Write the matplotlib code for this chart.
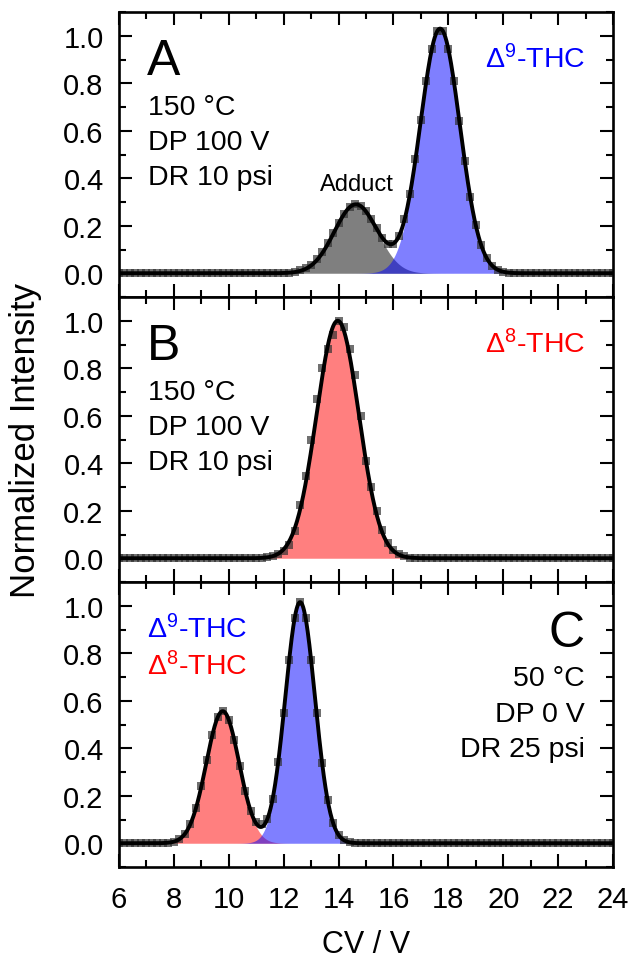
import numpy as np
import matplotlib
matplotlib.use("Agg")
import matplotlib.pyplot as plt
from matplotlib.ticker import MultipleLocator

plt.rcParams['font.family'] = ['Liberation Sans', 'DejaVu Sans']
plt.rcParams['mathtext.fontset'] = 'custom'
plt.rcParams['mathtext.rm'] = 'Liberation Sans'
plt.rcParams['mathtext.default'] = 'regular'

# ---- data ----
cv = np.round(np.arange(6.0, 24.0001, 0.2), 1)  # CV sampling grid (V)

intensity_A = [
    0, 0, 0, 0, 0, 0, 0, 0, 0, 0,
    0, 0, 0, 0, 0, 0, 0, 0, 0, 0,
    0, 0, 0, 0, 0, 0, 0, 0, 0, 0,
    0.001, 0.003, 0.006, 0.012, 0.021, 0.036, 0.059, 0.089, 0.127, 0.169,
    0.213, 0.251, 0.278, 0.290, 0.284, 0.261, 0.228, 0.189, 0.150, 0.124,
    0.122, 0.155, 0.227, 0.335, 0.479, 0.646, 0.811, 0.945, 1.020, 1.020,
    0.944, 0.809, 0.642, 0.472, 0.321, 0.202, 0.118, 0.063, 0.032, 0.015,
    0.006, 0.003, 0.001, 0, 0, 0, 0, 0, 0, 0,
    0, 0, 0, 0, 0, 0, 0, 0, 0, 0,
    0,
]
intensity_B = [
    0, 0, 0, 0, 0, 0, 0, 0, 0, 0,
    0, 0, 0, 0, 0, 0, 0, 0, 0, 0,
    0, 0, 0, 0, 0, 0, 0, 0.004, 0.009, 0.018,
    0.030, 0.055, 0.115, 0.225, 0.345, 0.500, 0.670, 0.800, 0.880, 0.940,
    1.000, 0.975, 0.880, 0.770, 0.600, 0.410, 0.300, 0.200, 0.120, 0.065,
    0.035, 0.017, 0.008, 0.003, 0.001, 0, 0, 0, 0, 0,
    0, 0, 0, 0, 0, 0, 0, 0, 0, 0,
    0, 0, 0, 0, 0, 0, 0, 0, 0, 0,
    0, 0, 0, 0, 0, 0, 0, 0, 0, 0,
    0,
]
intensity_C = [
    0, 0, 0, 0, 0, 0, 0, 0, 0, 0.002,
    0.007, 0.017, 0.040, 0.080, 0.147, 0.239, 0.349, 0.455, 0.532, 0.556,
    0.520, 0.435, 0.326, 0.220, 0.135, 0.090, 0.080, 0.101, 0.188, 0.341,
    0.548, 0.772, 0.948, 1.015, 0.948, 0.772, 0.548, 0.339, 0.183, 0.086,
    0.035, 0.013, 0.004, 0.001, 0, 0, 0, 0, 0, 0,
    0, 0, 0, 0, 0, 0, 0, 0, 0, 0,
    0, 0, 0, 0, 0, 0, 0, 0, 0, 0,
    0, 0, 0, 0, 0, 0, 0, 0, 0, 0,
    0, 0, 0, 0, 0, 0, 0, 0, 0, 0,
    0,
]

# Gaussian fit components: (amplitude, center, sigma)
peaks_A = [(0.29, 14.63, 0.78), (1.03, 17.70, 0.72)]
peaks_B = [(1.00, 13.97, 0.77)]
peaks_C = [(0.556, 9.78, 0.60), (1.015, 12.60, 0.54)]
fills_A = ['#000000', '#0000ff']
fills_B = ['#ff0000']
fills_C = ['#ff0000', '#0000ff']

panel_letters = ['A', 'B', 'C']
conditions = [['150 °C', 'DP 100 V', 'DR 10 psi'],
              ['150 °C', 'DP 100 V', 'DR 10 psi'],
              ['50 °C', 'DP 0 V', 'DR 25 psi']]
xticks = [6, 8, 10, 12, 14, 16, 18, 20, 22, 24]
yticks = [0.0, 0.2, 0.4, 0.6, 0.8, 1.0]


def gauss(x, a, c, s):
    return a * np.exp(-(x - c) ** 2 / (2 * s ** 2))


W, H = 633, 962
fig = plt.figure(figsize=(W / 100, H / 100), dpi=100)
left, right = 119 / W, 613 / W
top_px, bot_px = 13, 868
ph = (bot_px - top_px) / 3

axes = []
for i in range(3):
    y0 = 1 - (top_px + (i + 1) * ph) / H
    ax = fig.add_axes([left, y0, right - left, ph / H])
    axes.append(ax)

xf = np.linspace(6, 24, 1200)
datasets = [intensity_A, intensity_B, intensity_C]
peaksets = [peaks_A, peaks_B, peaks_C]
fillsets = [fills_A, fills_B, fills_C]

for i, ax in enumerate(axes):
    total = np.zeros_like(xf)
    for (a, c, s), col in zip(peaksets[i], fillsets[i]):
        g = gauss(xf, a, c, s)
        total += g
        ax.fill_between(xf, 0, g, color=col, alpha=0.5, lw=0, zorder=1)
    ax.plot(cv, datasets[i], ls='none', marker='s', ms=5.2, mew=0,
            color='#333333', alpha=0.7, zorder=2)
    ax.plot(xf, total, color='black', lw=2.8, zorder=3, solid_capstyle='round')

    ax.set_xlim(6, 24)
    ax.set_ylim(-0.1, 1.1)
    ax.set_xticks(xticks)
    ax.set_yticks(yticks)
    ax.set_yticklabels([f'{v:.1f}' for v in yticks])
    ax.xaxis.set_minor_locator(MultipleLocator(1))
    ax.yaxis.set_minor_locator(MultipleLocator(0.1))
    ax.tick_params(which='both', direction='in', top=True, right=True,
                   width=1.5, labelsize=21)
    ax.tick_params(which='major', length=9.5)
    ax.tick_params(which='minor', length=5)
    ax.tick_params(axis='y', pad=11)
    ax.tick_params(axis='x', pad=13)
    for sp in ax.spines.values():
        sp.set_linewidth(1.9)
    if i < 2:
        ax.tick_params(axis='x', labelbottom=False)

txt_fs = 20.5
# panel annotations
for i in (0, 1):
    ax = axes[i]
    ax.text(0.057, 0.7825, panel_letters[i], transform=ax.transAxes,
            fontsize=36, ha='left', va='baseline')
    for k, line in enumerate(conditions[i]):
        ax.text(0.058, 0.642 - k * 0.1228, line, transform=ax.transAxes,
                fontsize=txt_fs, ha='left', va='baseline')

axes[0].text(0.943, 0.807, 'Δ$^{9}$-THC', color='#0000ff', transform=axes[0].transAxes,
             fontsize=txt_fs, ha='right', va='baseline')
axes[1].text(0.943, 0.807, 'Δ$^{8}$-THC', color='#ff0000', transform=axes[1].transAxes,
             fontsize=txt_fs, ha='right', va='baseline')
axes[0].text(14.65, 0.35, 'Adduct', fontsize=17, ha='center', va='baseline')

axC = axes[2]
axC.text(0.943, 0.775, panel_letters[2], transform=axC.transAxes,
         fontsize=36, ha='right', va='baseline')
for k, (line, yy) in enumerate(zip(conditions[2], [0.638, 0.512, 0.389])):
    axC.text(0.943, yy, line, transform=axC.transAxes,
             fontsize=txt_fs, ha='right', va='baseline')
axC.text(0.057, 0.807, 'Δ$^{9}$-THC', color='#0000ff', transform=axC.transAxes,
         fontsize=txt_fs, ha='left', va='baseline')
axC.text(0.057, 0.677, 'Δ$^{8}$-THC', color='#ff0000', transform=axC.transAxes,
         fontsize=txt_fs, ha='left', va='baseline')

fig.text(26 / W, 1 - 440.5 / H, 'Normalized Intensity', rotation=90,
         fontsize=25, ha='center', va='center')
fig.text(366 / W, 1 - 953 / H, 'CV / V', fontsize=22, ha='center', va='baseline')

fig.savefig('out.png', dpi=100)
